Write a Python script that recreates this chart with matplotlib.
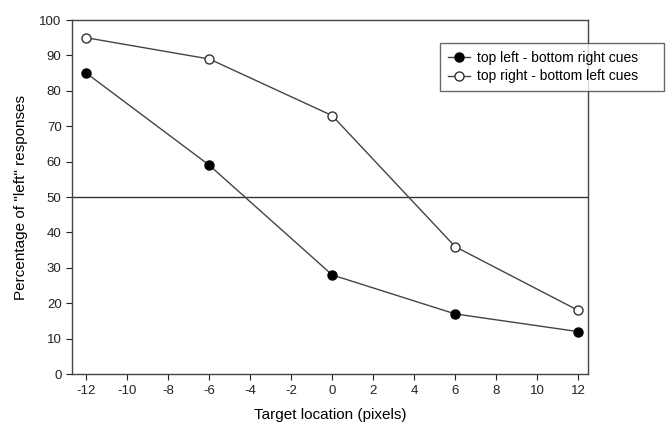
import matplotlib
matplotlib.use("Agg")
import matplotlib.pyplot as plt

plt.rcParams['font.family'] = ['Liberation Sans', 'DejaVu Sans']
plt.rcParams['axes.unicode_minus'] = False

locations = [-12, -6, 0, 6, 12]
tl_br = [85, 59, 28, 17, 12]
tr_bl = [95, 89, 73, 36, 18]
xticks = list(range(-12, 13, 2))
yticks = list(range(0, 101, 10))

fig = plt.figure(figsize=(6.67, 4.36), dpi=100)
ax = fig.add_axes([0.108, 0.142, 0.774, 0.812])

ax.axhline(50, color='#333333', lw=1)
ax.plot(locations, tl_br, '-o', color='#444444', lw=1, mfc='black', mec='black',
        ms=6.5, label='top left - bottom right cues')
ax.plot(locations, tr_bl, '-o', color='#444444', lw=1, mfc='white', mec='#333333',
        ms=6.5, label='top right - bottom left cues')

ax.set_xlim(-12.7, 12.5)
ax.set_ylim(0, 100)
ax.set_xticks(xticks)
ax.set_yticks(yticks)
ax.tick_params(direction='out', length=4, labelsize=9.5, colors='#222222')
for s in ax.spines.values():
    s.set_color('#444444')
    s.set_linewidth(1)

ax.set_xlabel('Target location (pixels)', fontsize=11, labelpad=8)
ax.set_ylabel('Percentage of "left" responses', fontsize=11, labelpad=8)

leg = fig.legend(loc='lower left', bbox_to_anchor=(0.66, 0.791, 0.335, 0.117),
                 mode='expand', fontsize=10, frameon=True, fancybox=False,
                 edgecolor='#444444', handlelength=1.6, borderaxespad=0,
                 labelspacing=0.35, handletextpad=0.5, borderpad=0.55)
leg.get_frame().set_linewidth(1)

fig.savefig('out.png', dpi=100)
